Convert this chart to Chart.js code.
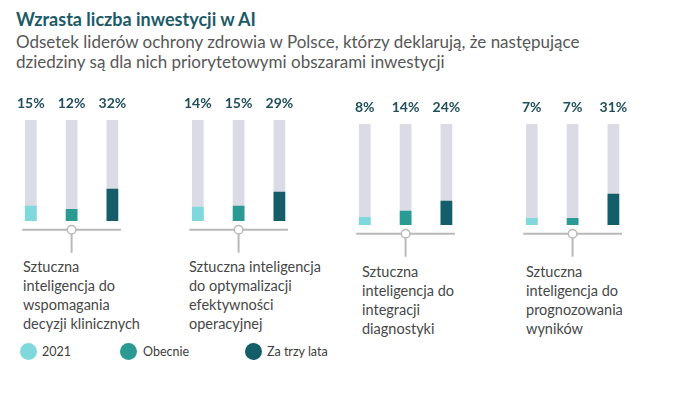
<!DOCTYPE html>
<html>
<head>
<meta charset="utf-8">
<script src="https://cdn.jsdelivr.net/npm/chart.js@4/dist/chart.umd.min.js"></script>
<style>
  html, body { margin: 0; padding: 0; background: #ffffff; }
  body { width: 700px; height: 394px; position: relative; overflow: hidden; font-family: Lato, "Open Sans", sans-serif; }
  .abs { position: absolute; white-space: nowrap; }
  #title { left: 16px; top: 8px; font-size: 18px; font-weight: bold; color: #1d5a68; }
  .sub { left: 16px; font-size: 17px; color: #575757; }
  .lab { font-size: 14.5px; color: #474747; line-height: 19px; }
  .leg { font-size: 12.5px; color: #404040; top: 344px; line-height: 16px; }
  .dot { position: absolute; width: 17px; height: 17px; border-radius: 50%; top: 343px; }
  canvas { position: absolute; }
</style>
</head>
<body>
<div id="title" class="abs">Wzrasta liczba inwestycji w AI</div>
<div class="abs sub" style="top:31px">Odsetek liderów ochrony zdrowia w Polsce, którzy deklarują, że następujące</div>
<div class="abs sub" style="top:51px">dziedziny są dla nich priorytetowymi obszarami inwestycji</div>

<div id="labels"></div>
<div id="legend"></div>

<script>
// ---- data ----
const categories = [
  ['Sztuczna', 'inteligencja do', 'wspomagania', 'decyzji klinicznych'],
  ['Sztuczna inteligencja', 'do optymalizacji', 'efektywności', 'operacyjnej'],
  ['Sztuczna', 'inteligencja do', 'integracji', 'diagnostyki'],
  ['Sztuczna', 'inteligencja do', 'prognozowania', 'wyników']
];
const seriesNames = ['2021', 'Obecnie', 'Za trzy lata'];
const values2021 = [15, 14, 8, 7];
const valuesNow = [12, 15, 14, 7];
const valuesIn3Years = [32, 29, 24, 31];
const fullScale = [100, 100, 100];

// ---- styles / layout ----
const seriesColors = ['#7fd9dc', '#2a9a92', '#135e69'];
const trackColor = '#dbdbe5';
const panelLeft = [1, 168, 335, 502];
const panelTop = [80, 80, 84, 84];
const labelPos = [[23, 257], [189, 257], [362, 262], [526, 262]];

const deco = {
  id: 'deco',
  afterDatasetsDraw(chart) {
    const ctx = chart.ctx;
    const meta = chart.getDatasetMeta(1);
    const bars = meta.data;
    const y0 = chart.scales.y.getPixelForValue(0);
    const y100 = chart.scales.y.getPixelForValue(100);
    const vals = chart.data.datasets[1].data;
    // value labels
    ctx.save();
    ctx.fillStyle = '#1f4f5b';
    ctx.font = 'bold 14px Lato, sans-serif';
    ctx.textAlign = 'center';
    ctx.textBaseline = 'middle';
    bars.forEach((b, i) => ctx.fillText(vals[i] + '%', b.x, y100 - 16.7));
    // baseline with connector
    const w = bars[0].width;
    const lx0 = bars[0].x - w / 2 - 2.7;
    const lx1 = bars[2].x + w / 2 + 2.7;
    const ly = y0 + 8.7;
    const cx = bars[1].x;
    ctx.strokeStyle = '#b9b9b9';
    ctx.lineWidth = 2;
    ctx.beginPath();
    ctx.moveTo(lx0, ly); ctx.lineTo(lx1, ly);
    ctx.moveTo(cx, ly); ctx.lineTo(cx, ly + 23);
    ctx.stroke();
    ctx.beginPath();
    ctx.arc(cx, ly, 4.3, 0, Math.PI * 2);
    ctx.fillStyle = '#ffffff';
    ctx.fill();
    ctx.lineWidth = 1.5;
    ctx.stroke();
    ctx.restore();
  }
};

const labelsDiv = document.getElementById('labels');
categories.forEach((lines, p) => {
  const cv = document.createElement('canvas');
  cv.style.left = panelLeft[p] + 'px';
  cv.style.top = panelTop[p] + 'px';
  cv.style.width = '150px';
  cv.style.height = '180px';
  cv.width = 150; cv.height = 180;
  document.body.appendChild(cv);
  new Chart(cv, {
    type: 'bar',
    data: {
      labels: seriesNames,
      datasets: [
        { data: fullScale, backgroundColor: trackColor, grouped: false, order: 2,
          barPercentage: 0.287, categoryPercentage: 1 },
        { data: [values2021[p], valuesNow[p], valuesIn3Years[p]], backgroundColor: seriesColors,
          grouped: false, order: 1, barPercentage: 0.287, categoryPercentage: 1 }
      ]
    },
    options: {
      responsive: false,
      animation: false,
      events: [],
      layout: { padding: { left: 9.4, right: 18.2, top: 40, bottom: 39 } },
      scales: {
        x: { display: false },
        y: { display: false, min: 0, max: 100 }
      },
      plugins: { legend: { display: false }, tooltip: { enabled: false } }
    },
    plugins: [deco]
  });
  const d = document.createElement('div');
  d.className = 'abs lab';
  d.style.left = labelPos[p][0] + 'px';
  d.style.top = labelPos[p][1] + 'px';
  d.innerHTML = lines.join('<br>');
  labelsDiv.appendChild(d);
});

const legendPos = [[20, 42], [120, 143], [245, 267]];
const legendDiv = document.getElementById('legend');
seriesNames.forEach((name, i) => {
  const dot = document.createElement('div');
  dot.className = 'dot';
  dot.style.left = legendPos[i][0] + 'px';
  dot.style.background = seriesColors[i];
  legendDiv.appendChild(dot);
  const t = document.createElement('div');
  t.className = 'abs leg';
  t.style.left = legendPos[i][1] + 'px';
  t.textContent = name;
  legendDiv.appendChild(t);
});
</script>
</body>
</html>
